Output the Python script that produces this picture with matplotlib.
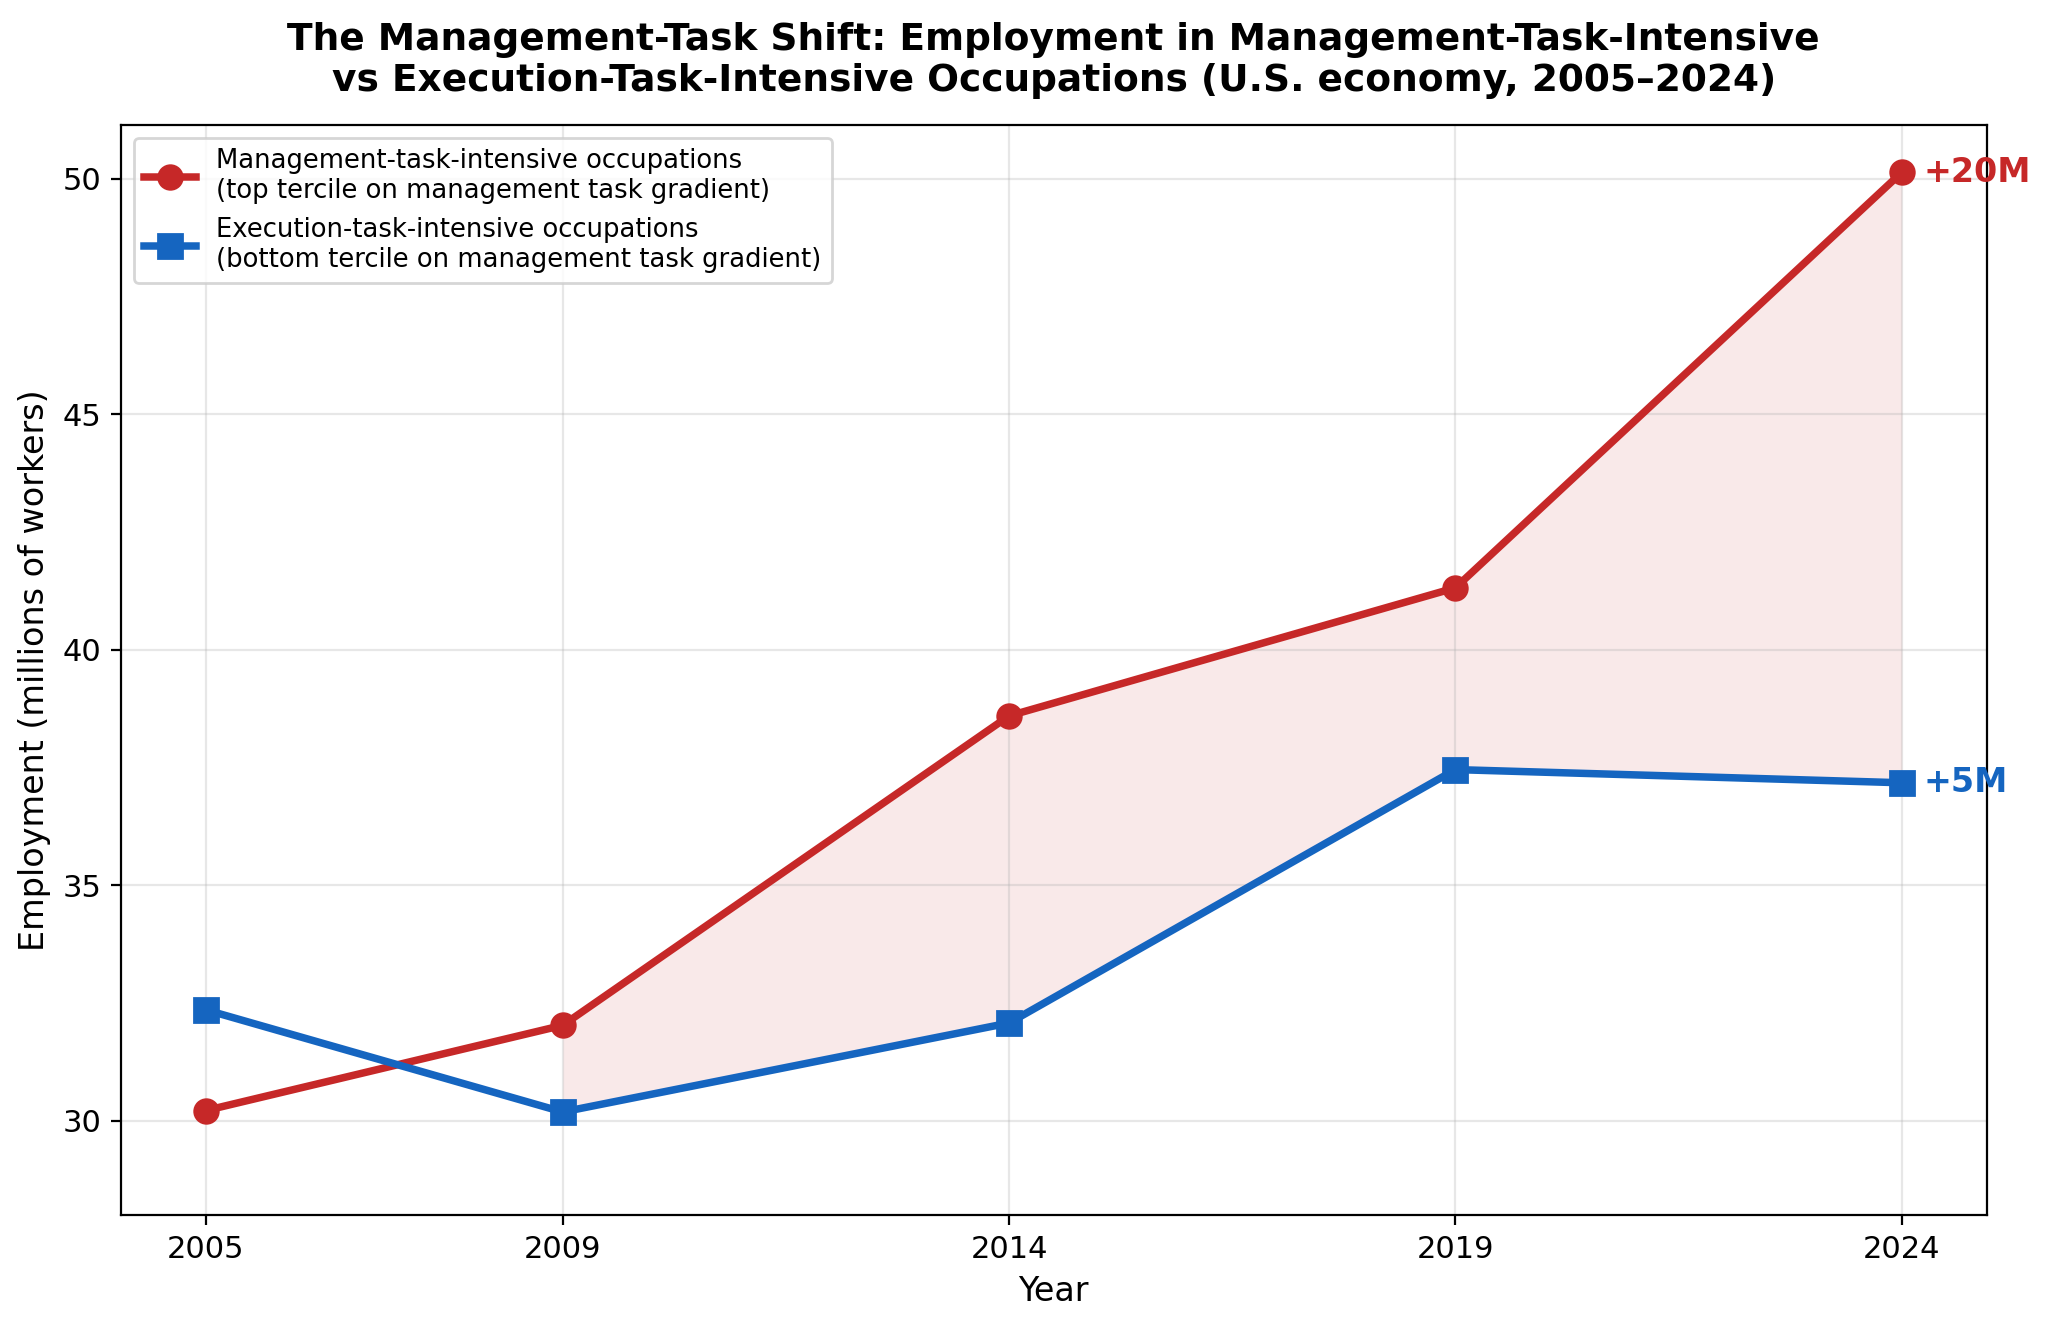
import matplotlib.pyplot as plt
import numpy as np

years = np.array([2005, 2009, 2014, 2019, 2024])
mgmt = np.array([30.22, 32.03, 38.6, 41.32, 50.14])
execu = np.array([32.36, 30.19, 32.08, 37.46, 37.18])

red = '#C62828'
blue = '#1565C0'

fig, ax = plt.subplots(figsize=(10.24, 6.64), dpi=200)
fig.subplots_adjust(left=0.059, right=0.970, top=0.906, bottom=0.085)

ax.plot(years, mgmt, color=red, lw=2.7, marker='o', ms=8.5,
        label='Management-task-intensive occupations\n(top tercile on management task gradient)')
ax.plot(years, execu, color=blue, lw=2.7, marker='s', ms=8.5,
        label='Execution-task-intensive occupations\n(bottom tercile on management task gradient)')
ax.fill_between(years, execu, mgmt, where=mgmt > execu, color=red, alpha=0.1, lw=0)

for series, col in [(mgmt, red), (execu, blue)]:
    diff = series[-1] - series[0]
    ax.annotate(f'+{diff:.0f}M', xy=(years[-1], series[-1]), xytext=(8, 0),
                textcoords='offset points', va='center', ha='left',
                color=col, fontweight='bold', fontsize=12)

ax.set_xticks(years)
ax.set_ylim(28, 51.15)
ax.grid(True, alpha=0.3)
ax.set_xlabel('Year', fontsize=12)
ax.set_ylabel('Employment (millions of workers)', fontsize=12)
ax.tick_params(labelsize=11)
ax.set_title('The Management-Task Shift: Employment in Management-Task-Intensive\n'
             'vs Execution-Task-Intensive Occupations (U.S. economy, 2005\u20132024)',
             fontsize=13.5, fontweight='bold', pad=12)
ax.legend(loc='upper left', fontsize=9.3)

fig.savefig('out.png')
